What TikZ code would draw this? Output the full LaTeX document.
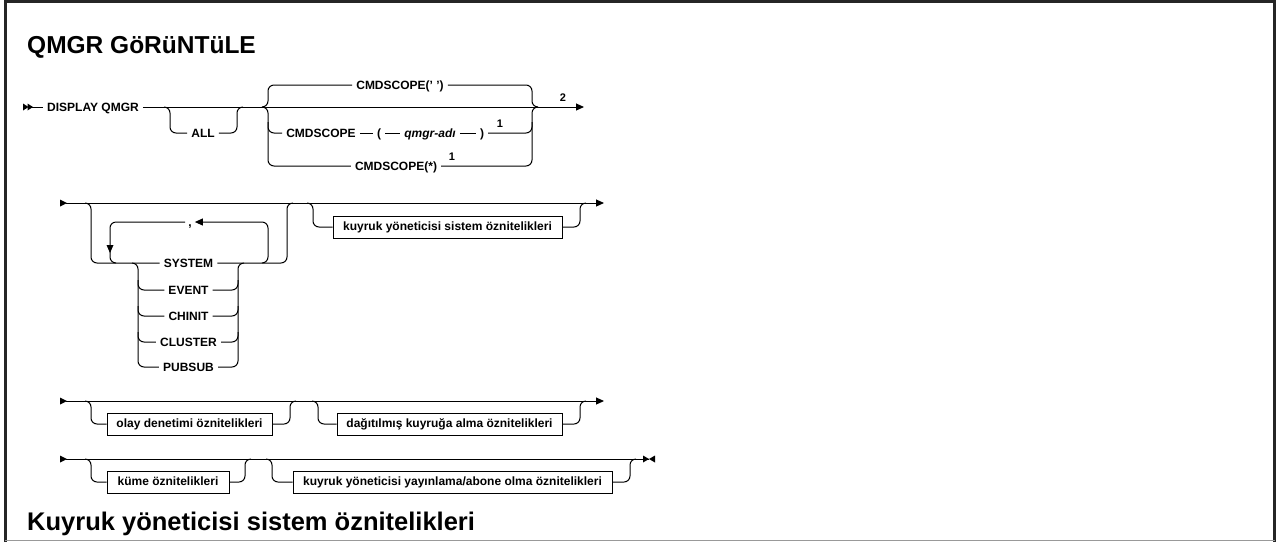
\documentclass[tikz,border=0pt]{standalone}
\usepackage{fontspec}
\setmainfont{Liberation Sans}
\usetikzlibrary{arrows.meta}
\begin{document}
\begin{tikzpicture}[x=1pt,y=-1pt,
  rail/.style={line width=1pt, rounded corners=6pt},
  lbl/.style={font=\fontsize{12}{14}\selectfont\bfseries, inner xsep=4pt, inner ysep=0pt, text height=8.6pt, text depth=0pt},
  ibox/.style={draw, line width=0.9pt, font=\fontsize{12}{14}\selectfont\bfseries, inner xsep=0pt, inner ysep=0pt, minimum height=22pt, text height=8.6pt, text depth=2.6pt},
  endarrow/.style={-{Triangle[length=8pt,width=7pt]}},
  supnum/.style={font=\fontsize{11}{13}\selectfont\bfseries, inner sep=0pt, anchor=base},
  ttl/.style={font=\fontsize{24.5}{28}\selectfont\bfseries, inner sep=0pt, anchor=base west}
]
\useasboundingbox (0,0) rectangle (1277,542);
% frame
\draw[line width=3pt, black!85] (5,542) -- (5,1.5) -- (1274.5,1.5) -- (1274.5,542);
\draw[line width=1.2pt, black!40] (5,540.6) -- (1274.5,540.6);

% titles
\node[ttl] (title) at (27,53) {QMGR GöRüNTüLE};
\node[ttl, font=\fontsize{25.5}{29}\selectfont\bfseries] (subtitle) at (27,530) {Kuyruk yöneticisi sistem öznitelikleri};

% ===== Row 1 =====
\fill (23,103.5) -- (28.5,107) -- (23,110.5) -- cycle;
\fill (27.5,103.5) -- (33,107) -- (27.5,110.5) -- cycle;
\coordinate (s1) at (32,107);
\node[lbl] (disp) at (93,107) {DISPLAY QMGR};
\coordinate (e1) at (584,107);
\draw[rail] (s1) -- (disp);
\draw[rail, endarrow] (disp) -- (e1);
\node[supnum] (n2) at (563,101) {2};
% ALL
\node[lbl] (all) at (203,133) {ALL};
\draw[rail] (164,107) -- (170,107) -- (170,133) -- (all);
\draw[rail] (all) -- (237,133) -- (237,107) -- (243,107);
% CMDSCOPE options
\node[lbl] (opt1) at (400,85) {CMDSCOPE(' ')};
\node[lbl] (cmd2) at (321,133) {CMDSCOPE};
\node[lbl] (lp) at (379,133) {(};
\node[lbl, font=\fontsize{12}{14}\selectfont\bfseries\itshape] (qm) at (430,133) {qmgr-adı};
\node[lbl] (rp) at (482,133) {)};
\node[supnum] (n1a) at (500,127) {1};
\node[lbl] (opt3) at (396,166) {CMDSCOPE(*)};
\node[supnum] (n1b) at (452,160) {1};
% left brace
\draw[rail] (262,107) -- (268,107) -- (268,85) -- (opt1);
\draw[rail] (262,107) -- (268,107) -- (268,166) -- (opt3);
\draw[rail] (268,122) -- (268,133) -- (cmd2);
\draw[rail] (cmd2) -- (lp) -- (qm) -- (rp);
% right brace
\draw[rail] (opt1) -- (532,85) -- (532,107) -- (538,107);
\draw[rail] (opt3) -- (532,166) -- (532,107) -- (538,107);
\draw[rail] (rp) -- (532,133) -- (532,122);

% ===== Row 2 =====
\fill (60,199.5) -- (67,203) -- (60,206.5) -- cycle;
\coordinate (s2) at (66,203);
\coordinate (e2) at (604,203);
\draw[rail, endarrow] (s2) -- (e2);
\node[lbl] (sys) at (188.5,263) {SYSTEM};
\node[lbl] (evt) at (188.5,290) {EVENT};
\node[lbl] (chi) at (188.5,316) {CHINIT};
\node[lbl] (clu) at (188.5,342) {CLUSTER};
\node[lbl] (pub) at (188.5,367) {PUBSUB};
% outer optional group
\draw[rail] (85,203) -- (91,203) -- (91,263) -- (sys);
\draw[rail] (sys) -- (287,263) -- (287,203) -- (293,203);
% repeat loop
\node[lbl, anchor=base, inner xsep=3pt] (comma) at (190,226) {,};
\draw[rail, endarrow] (262,263) -- (268,263) -- (268,222) -- (comma.east |- 0,222);
\draw[rail] (comma.west |- 0,222) -- (110,222) -- (110,263) -- (116,263);
\fill (106.5,245) -- (113.5,245) -- (110,253) -- cycle;
% choice stack
\draw[rail] (132,263) -- (138,263) -- (138,367) -- (pub);
\draw[rail] (138,280) -- (138,290) -- (evt);
\draw[rail] (138,306) -- (138,316) -- (chi);
\draw[rail] (138,332) -- (138,342) -- (clu);
\draw[rail] (pub) -- (238,367) -- (238,263) -- (244,263);
\draw[rail] (evt) -- (238,290) -- (238,280);
\draw[rail] (chi) -- (238,316) -- (238,306);
\draw[rail] (clu) -- (238,342) -- (238,332);
% box branch
\node[ibox, minimum width=229pt] (b1) at (447.5,227) {kuyruk yöneticisi sistem öznitelikleri};
\draw[rail] (307,203) -- (313,203) -- (313,227) -- (b1);
\draw[rail] (b1) -- (580,227) -- (580,203) -- (586,203);

% ===== Row 3 =====
\fill (60,397.5) -- (67,401) -- (60,404.5) -- cycle;
\coordinate (s3) at (66,401);
\coordinate (e3) at (604,401);
\draw[rail, endarrow] (s3) -- (e3);
\node[ibox, minimum width=165pt] (b2) at (189.5,424) {olay denetimi öznitelikleri};
\draw[rail] (85,401) -- (91,401) -- (91,424) -- (b2);
\draw[rail] (b2) -- (290,424) -- (290,401) -- (296,401);
\node[ibox, minimum width=225pt] (b3) at (449.5,424) {dağıtılmış kuyruğa alma öznitelikleri};
\draw[rail] (312,401) -- (318,401) -- (318,424) -- (b3);
\draw[rail] (b3) -- (580,424) -- (580,401) -- (586,401);

% ===== Row 4 =====
\fill (60,455.5) -- (67,459) -- (60,462.5) -- cycle;
\coordinate (s4) at (66,459);
\coordinate (e4) at (649,459);
\draw[rail] (s4) -- (e4);
\fill (643,455.5) -- (649,459) -- (643,462.5) -- cycle;
\fill (655,455.5) -- (649,459) -- (655,462.5) -- cycle;
\node[ibox, minimum width=122pt] (b4) at (168,482) {küme öznitelikleri};
\draw[rail] (85,459) -- (91,459) -- (91,482) -- (b4);
\draw[rail] (b4) -- (245,482) -- (245,459) -- (251,459);
\node[ibox, minimum width=319pt] (b5) at (452.5,482) {kuyruk yöneticisi yayınlama/abone olma öznitelikleri};
\draw[rail] (266,459) -- (272,459) -- (272,482) -- (b5);
\draw[rail] (b5) -- (630,482) -- (630,459) -- (636,459);
\end{tikzpicture}
\end{document}
